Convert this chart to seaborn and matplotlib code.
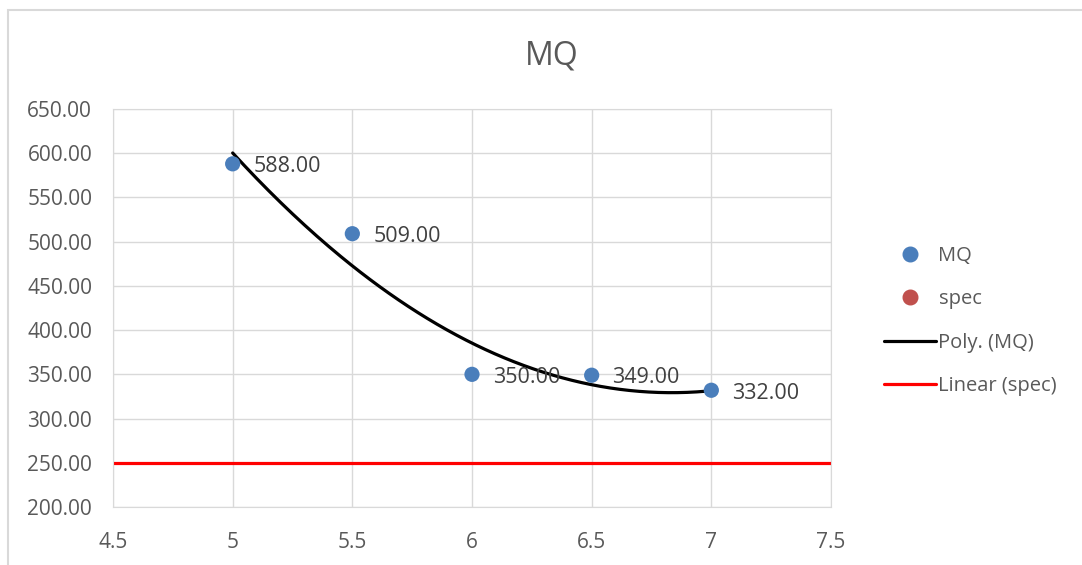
import numpy as np
import pandas as pd
import seaborn as sns
import matplotlib.pyplot as plt
from matplotlib.lines import Line2D
from matplotlib.patches import Rectangle

# data
voltage = [5, 5.5, 6, 6.5, 7]
mq = [588, 509, 350, 349, 332]
spec = [250, 250, 250, 250, 250]
x_ticks = [4.5, 5, 5.5, 6, 6.5, 7, 7.5]
y_ticks = [200, 250, 300, 350, 400, 450, 500, 550, 600, 650]

sns.set_style("white")
plt.rcParams['font.family'] = ['Open Sans', 'DejaVu Sans']
grey_txt = "#595959"

df = pd.DataFrame({"x": voltage, "MQ": mq, "spec": spec})

fig = plt.figure(figsize=(10.82, 5.65), dpi=100)
ax = fig.add_axes([113/1082, 1 - 507/565, (831 - 113)/1082, (507 - 109)/565])

# outer chart border like excel
fig.patches.append(Rectangle((8/1082, -0.05), 1.1, 1 - 10/565 + 0.05, transform=fig.transFigure,
                             fill=False, edgecolor="#d9d9d9", linewidth=1.5))

# trendlines
poly = np.polyfit(df["x"], df["MQ"], 2)
xs = np.linspace(min(voltage), max(voltage), 200)
sns.lineplot(x=xs, y=np.polyval(poly, xs), color="black", linewidth=2.3, ax=ax)
lin = np.polyfit(df["x"], df["spec"], 1)
xl = np.array([x_ticks[0], x_ticks[-1]])
sns.lineplot(x=xl, y=np.polyval(lin, xl), color="#ff0000", linewidth=2.3, ax=ax)

sns.scatterplot(data=df, x="x", y="MQ", color="#4a7ebb", s=120, edgecolor="none", ax=ax, zorder=3)

for xv, yv in zip(voltage, mq):
    ax.annotate(f"{yv:.2f}", (xv, yv), xytext=(15, -2), textcoords="offset points",
                ha="left", va="center", fontsize=15.5, color="#404040")

ax.set_xlim(x_ticks[0], x_ticks[-1])
ax.set_ylim(y_ticks[0], y_ticks[-1])
ax.set_xticks(x_ticks)
ax.set_xticklabels([f"{v:g}" for v in x_ticks])
ax.set_yticks(y_ticks)
ax.set_yticklabels([f"{v:.2f}" for v in y_ticks])
ax.tick_params(labelsize=15, colors=grey_txt, length=0)
ax.tick_params(axis="y", pad=15)
ax.tick_params(axis="x", pad=18)
ax.grid(True, color="#d9d9d9", linewidth=1)
for s in ax.spines.values():
    s.set_color("#d9d9d9")
ax.set_xlabel("")
ax.set_ylabel("")

fig.text(552/1082, 1 - 56/565, "MQ", ha="center", va="center", fontsize=23, color=grey_txt)

handles = [
    Line2D([], [], marker="o", linestyle="none", color="#4a7ebb", markersize=10.5),
    Line2D([], [], marker="o", linestyle="none", color="#c0504d", markersize=10.5),
    Line2D([], [], color="black", linewidth=2.3),
    Line2D([], [], color="#ff0000", linewidth=2.3),
]
leg = fig.legend(handles, ["MQ", "spec", "Poly. (MQ)", "Linear (spec)"], loc="center left",
                 bbox_to_anchor=(866/1082, 1 - 321/565), frameon=False, fontsize=14.5,
                 handlelength=2.6, handletextpad=0.1, labelspacing=1.15)
for t in leg.get_texts():
    t.set_color(grey_txt)

fig.savefig("out.png", dpi=100)
